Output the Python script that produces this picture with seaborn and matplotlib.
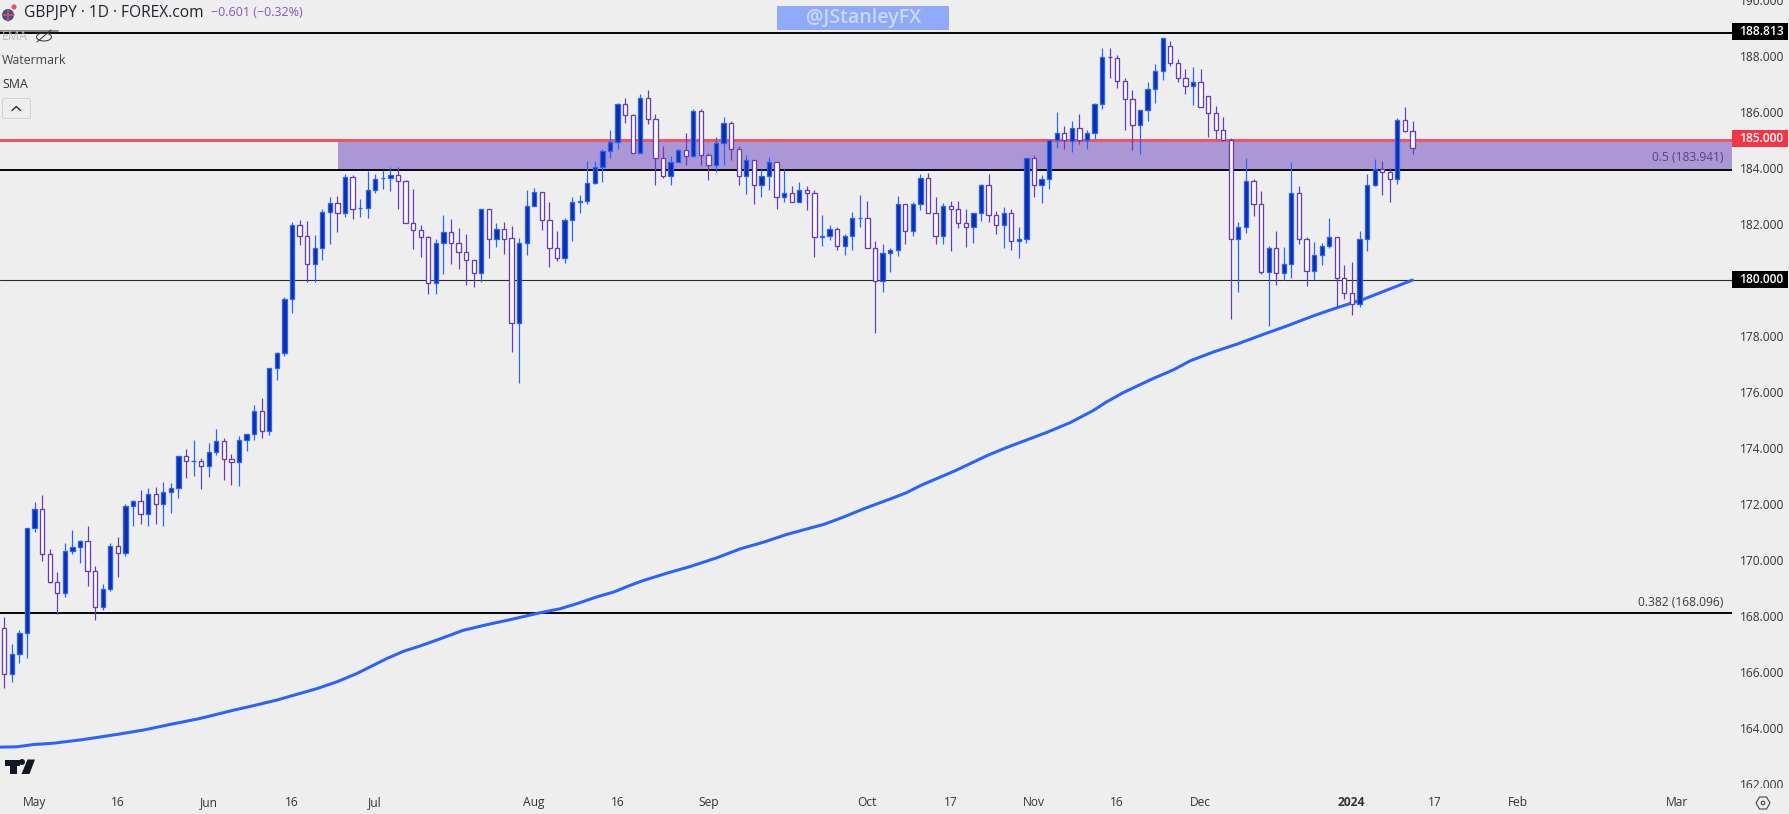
import pandas as pd
import matplotlib.pyplot as plt
import seaborn as sns
from matplotlib.patches import Rectangle, Polygon, Circle, Ellipse, FancyBboxPatch

# daily GBPJPY candles
opens = [167.58,165.94,166.66,167.41,171.15,171.83,170.22,169.21,168.83,170.33,
         170.47,170.68,169.61,168.33,168.97,170.51,170.26,171.93,172.11,171.65,
         172.36,172.00,172.43,172.57,173.71,173.54,173.54,173.36,173.86,174.25,
         173.61,173.50,174.28,174.50,175.32,174.61,176.85,177.39,179.31,181.95,
         181.59,180.56,181.16,182.44,182.76,182.41,183.69,182.59,182.59,183.23,
         183.63,183.66,183.76,183.55,182.02,181.77,181.52,179.88,181.34,181.70,
         181.34,180.99,180.70,180.24,182.52,181.47,181.81,181.49,178.45,181.34,
         182.63,183.13,182.16,181.13,180.77,182.16,182.77,182.84,183.48,184.05,
         184.62,184.94,186.30,185.91,184.55,186.51,185.76,184.34,183.73,184.20,
         184.66,184.44,186.05,184.48,184.12,184.91,185.62,184.69,183.73,184.27,
         183.38,183.70,184.20,182.98,183.09,182.77,183.23,183.09,181.52,181.59,
         181.81,181.22,181.59,182.20,182.20,181.13,179.95,180.95,181.06,182.70,
         181.74,182.73,183.66,182.38,181.58,182.66,182.52,182.02,181.91,182.38,
         183.38,182.31,181.95,182.41,181.38,181.45,184.37,183.41,183.59,185.01,
         185.26,184.98,185.44,184.99,185.25,186.30,187.97,187.93,187.11,186.47,
         185.55,186.08,186.83,187.47,188.36,187.76,187.22,186.94,187.08,186.58,
         185.97,185.37,185.01,181.48,181.91,183.52,182.70,180.27,181.16,180.24,
         180.56,183.12,181.45,180.31,180.88,181.20,181.52,180.06,179.52,179.13,
         181.48,183.41,183.97,183.87,183.62,185.73,185.33]
highs = [167.96,167.01,167.49,171.15,172.09,172.34,170.38,169.56,170.61,171.09,
         170.70,171.20,169.77,169.13,170.61,170.84,172.01,172.15,172.51,172.59,
         172.62,172.80,172.76,173.72,173.98,174.30,173.66,174.19,174.69,174.37,
         173.79,174.43,174.51,175.54,175.79,176.86,177.42,179.39,182.06,182.14,
         182.10,181.60,182.55,182.95,182.99,183.77,183.76,182.88,183.88,183.77,
         183.94,184.02,184.02,183.57,183.24,181.98,181.59,181.48,182.31,182.17,
         181.85,181.64,180.70,182.52,182.52,182.02,182.07,181.93,181.49,183.21,
         183.28,183.16,182.78,181.75,182.21,182.96,183.03,184.24,184.24,184.69,
         185.34,186.33,186.49,185.94,186.65,186.77,185.94,184.77,184.42,184.69,
         185.26,186.10,186.12,184.55,185.10,185.81,185.69,184.77,184.48,184.27,
         183.95,184.39,184.20,183.95,183.35,183.49,183.35,183.21,182.32,181.96,
         181.89,181.66,182.42,183.03,182.82,181.39,181.28,181.14,183.00,182.70,
         182.78,183.78,183.82,182.96,182.75,182.82,182.82,182.53,182.38,183.42,
         183.78,182.46,182.60,182.53,181.89,184.37,184.48,183.74,185.01,185.99,
         185.49,185.69,185.92,185.34,186.33,188.30,188.27,188.02,187.23,186.79,
         186.08,187.06,187.70,188.65,188.55,187.88,187.55,187.59,187.52,186.58,
         186.20,185.81,185.06,182.07,184.35,183.59,183.17,181.21,181.75,181.17,
         184.20,183.35,181.53,181.35,181.32,182.21,181.52,180.53,180.64,181.75,
         183.78,184.31,184.24,183.99,185.77,186.17,185.67]
lows = [165.43,165.65,166.32,166.50,170.99,169.96,169.18,168.08,168.68,170.20,
        169.89,169.09,167.86,168.20,168.89,169.41,170.14,171.20,171.28,171.20,
        171.30,171.23,171.69,172.23,172.94,173.01,172.55,172.98,173.76,172.87,
        172.69,172.66,173.90,174.30,174.37,174.47,176.43,177.27,178.83,181.24,
        179.94,179.94,180.73,181.28,181.71,182.24,182.17,182.24,182.21,183.10,
        183.24,183.17,182.53,182.02,181.10,180.82,179.51,179.51,180.22,180.57,
        180.39,179.82,179.75,179.93,180.80,181.18,180.93,177.44,176.33,180.89,
        182.63,181.78,180.47,180.68,180.61,181.39,182.39,182.71,183.42,183.49,
        184.35,184.69,185.60,184.55,184.55,185.56,183.39,183.64,183.39,184.20,
        184.10,184.39,184.10,183.57,183.85,184.10,184.28,183.39,183.07,182.71,
        182.96,183.21,182.53,182.78,182.77,182.77,182.50,180.82,181.21,181.43,
        181.07,180.89,181.07,181.89,181.13,178.11,179.57,180.29,180.86,181.28,
        181.57,182.50,182.38,181.28,181.28,181.04,181.86,181.18,181.32,182.10,
        182.07,181.64,181.14,181.07,180.79,181.32,182.96,182.75,183.24,184.71,
        184.67,184.56,184.85,184.67,185.03,186.11,187.21,186.85,185.34,184.63,
        184.49,185.67,186.31,187.13,187.63,187.06,186.63,186.24,186.19,185.10,
        185.02,185.01,178.61,179.57,181.67,182.28,180.21,178.36,179.82,179.99,
        180.07,181.28,179.79,179.99,180.53,181.13,178.99,179.32,178.75,179.04,
        181.03,183.35,183.03,182.78,183.42,185.29,184.49]
closes = [165.94,166.66,167.41,171.15,171.83,170.22,169.21,168.83,170.33,170.47,
          170.68,169.61,168.33,168.97,170.51,170.26,171.93,172.11,171.65,172.36,
          172.00,172.43,172.57,173.71,173.54,173.54,173.36,173.86,174.25,173.61,
          173.50,174.28,174.50,175.32,174.61,176.85,177.39,179.31,181.95,181.59,
          180.56,181.16,182.44,182.76,182.41,183.69,182.55,182.59,183.23,183.62,
          183.63,183.76,183.55,182.02,181.77,181.52,179.88,181.34,181.70,181.33,
          180.99,180.70,180.24,182.52,181.47,181.81,181.47,178.45,181.34,182.63,
          183.13,182.16,181.13,180.77,182.16,182.77,182.84,183.48,184.05,184.62,
          184.94,186.30,185.91,184.55,186.51,185.76,184.34,183.73,184.20,184.66,
          184.44,186.05,184.48,184.12,184.91,185.62,184.69,183.73,184.27,183.38,
          183.70,184.20,182.98,183.09,182.77,183.23,183.09,181.52,181.59,181.81,
          181.22,181.59,182.20,182.20,181.13,179.95,180.95,181.06,182.70,181.74,
          182.73,183.66,182.38,181.58,182.66,182.52,182.02,181.91,182.38,183.38,
          182.31,181.95,182.41,181.38,181.45,184.37,183.41,183.59,185.01,185.26,
          184.99,185.44,184.99,185.26,186.30,187.97,187.96,187.11,186.47,185.55,
          186.08,186.83,187.47,188.65,187.76,187.22,186.94,187.08,186.19,185.97,
          185.37,185.01,181.48,181.91,183.52,182.70,180.27,181.16,180.24,180.56,
          183.12,181.45,180.31,180.88,181.20,181.52,180.06,179.52,179.13,181.48,
          183.41,183.97,183.87,183.62,185.73,185.33,184.73]

# 200 day SMA, read at these candle positions
sma_pos = [-0.57,1.6,3.8,6.5,10.4,14.8,18.4,21.9,25.8,30.3,32.9,36,41.3,43.9,46.5,50.5,52.7,54.9,
           57.6,60.6,63.7,66.8,70.8,73.4,75.6,78.2,80.5,82.6,84.4,87.5,90.6,94.1,97.2,100.3,
           103.3,106,108.2,110.8,113.5,115.2,117,119.2,121,125.6,129.8,132.4,137.7,140.8,
           143.9,145.6,147.8,151.8,154.4,156.6,159.7,162.8,166.3,169.4,172.9,176,179.5,186]
sma_vals = [163.32,163.33,163.41,163.46,163.59,163.77,163.93,164.13,164.34,164.64,164.80,165.00,
            165.41,165.65,165.94,166.48,166.74,166.93,167.19,167.49,167.69,167.87,168.12,168.26,
            168.44,168.68,168.86,169.09,169.27,169.53,169.77,170.08,170.40,170.64,170.91,171.11,
            171.27,171.53,171.83,172.00,172.18,172.41,172.66,173.19,173.73,174.02,174.56,174.91,
            175.35,175.65,175.98,176.49,176.79,177.11,177.43,177.71,178.06,178.36,178.72,179.01,
            179.31,180.00]

price_ticks = [162,164,166,168,170,172,174,176,178,180,182,184,186,188,190]
date_pos = [4,15,27,38,49,70,81,93,114,125,136,147,158,178,189,200,221]
date_labels = ['May','16','Jun','16','Jul','Aug','16','Sep','Oct','17','Nov','16','Dec','2024','17','Feb','Mar']

level_high = 188.813
level_fib5 = 183.941
level_fib382 = 168.096
level_round = 180.0
level_red = 185.0

BG = '#eeeeee'
UP_EDGE = '#2962ff'
UP_FILL = '#0d2f9f'
DOWN_EDGE = '#673ab7'
DOWN_FILL = '#ffffff'
W, H = 1789, 814
PX = 0.72

sns.set_theme(style='white', rc={'figure.facecolor': BG, 'axes.facecolor': BG})
plt.rcParams['font.family'] = ['Open Sans', 'DejaVu Sans']

candles = pd.DataFrame({'open': opens, 'high': highs, 'low': lows, 'close': closes})
candles['pos'] = candles.index
up = candles[candles['close'] >= candles['open']]
down = candles[candles['close'] < candles['open']]

fig = plt.figure(figsize=(W / 100, H / 100), dpi=100)
ax = fig.add_axes([0, 26 / H, 1732 / W, 788 / H])

# zone and levels
ax.axhspan(level_fib5, level_red, xmin=338 / 1732, xmax=1, facecolor='#ab97d6', edgecolor='none', zorder=1)
ax.axhline(level_red, color='#ee5566', lw=3 * PX, zorder=1.5)
ax.axhline(level_high, color='#0a0a0a', lw=2 * PX, zorder=2)
ax.axhline(level_fib5, color='#0a0a0a', lw=2 * PX, zorder=2)
ax.axhline(level_fib382, color='#0a0a0a', lw=2 * PX, zorder=2)
ax.axhline(level_round, color='#2a2a2a', lw=1.1 * PX, zorder=2)

sns.lineplot(x=sma_pos, y=sma_vals, ax=ax, color=UP_EDGE, linewidth=3 * PX, estimator=None, sort=False, zorder=3)

# candles
for part, edge, fill in [(up, UP_EDGE, UP_FILL), (down, DOWN_EDGE, DOWN_FILL)]:
    ax.vlines(part['pos'], part['low'], part['high'], color=edge, lw=1.2 * PX, zorder=3.5)
    bottoms = part[['open', 'close']].min(axis=1)
    heights = (part['close'] - part['open']).abs()
    ax.bar(part['pos'], heights, bottom=bottoms, width=0.56, facecolor=fill, edgecolor=edge,
           linewidth=1.3 * PX, zorder=4)

ax.set_xlim(-0.572, 228.2)
ax.set_ylim(161.86, 189.942)
ax.set_xticks([])
ax.set_yticks(price_ticks)
ax.set_yticklabels([f'{p:.3f}' for p in price_ticks], color='#333333', fontsize=12 * PX)
ax.yaxis.tick_right()
ax.tick_params(axis='y', length=0, pad=8 * PX)
sns.despine(ax=ax, left=True, bottom=True, right=True, top=True)

# time axis strip, also cuts the lowest price label like the original
ax_time = fig.add_axes([0, 0, 1, 26 / H])
ax_time.set_facecolor(BG)
ax_time.set_xlim(-0.572, 235.76)
ax_time.set_yticks([])
ax_time.set_xticks(date_pos)
ax_time.set_xticklabels(date_labels, color='#333333', fontsize=12 * PX)
ax_time.tick_params(axis='x', length=0, pad=-13)
ax_time.get_xticklabels()[date_labels.index('2024')].set_fontweight('bold')
sns.despine(ax=ax_time, left=True, bottom=True, right=True, top=True)

# overlay in pixel coordinates for header, tags and icons
ov = fig.add_axes([0, 0, 1, 1])
ov.set_xlim(0, W)
ov.set_ylim(H, 0)
ov.axis('off')
ov.patch.set_alpha(0)

# dimmed part of the top line under the legend
ov.plot([0, 58], [31, 31], color='#888888', lw=2 * PX)

ov.text(24, 13, 'GBPJPY · 1D · FOREX.com', fontsize=15.5 * PX, color='#1e222d', va='center')
ov.text(211, 13, '\u22120.601 (\u22120.32%)', fontsize=12.5 * PX, color='#7e57c2', va='center')
ov.text(2, 37, 'EMA', fontsize=12.4 * PX, color='#b8b8b8', va='center')
ov.text(2, 60.5, 'Watermark', fontsize=12.4 * PX, color='#444444', va='center')
ov.text(2, 84.5, 'SMA', fontsize=12.4 * PX, color='#333333', va='center')

# flag
ov.add_patch(Circle((8, 15), 6, facecolor='#3b4f8f', edgecolor='none'))
ov.plot([2.5, 13.5], [15, 15], color='#e05060', lw=1.6 * PX)
ov.plot([8, 8], [9.5, 20.5], color='#e05060', lw=1.6 * PX)
ov.add_patch(Circle((14, 7), 2.6, facecolor='#e8505f', edgecolor='none'))

# eye icon
ov.add_patch(Ellipse((44, 37), 15, 8, facecolor='none', edgecolor='#333333', lw=1 * PX))
ov.plot([37, 51], [42, 30], color='#333333', lw=1 * PX)

# collapse button
ov.add_patch(FancyBboxPatch((3.5, 99.5), 26, 18, boxstyle='round,pad=1,rounding_size=2', facecolor=BG,
                            edgecolor='#d2d2d2', lw=1 * PX))
ov.plot([12, 16.3, 20.5], [110.5, 106.5, 110.5], color='#222222', lw=1.3 * PX)

# watermark box
ov.add_patch(Rectangle((777, 6), 172, 24, facecolor='#8eaaf8', edgecolor='none'))
ov.text(863.5, 18, '@JStanleyFX', fontsize=19.5 * PX, color='#cbd9fc', ha='center', va='center', fontweight='semibold')

# fib labels
ov.text(1723, 157.5, '0.5 (183.941)', fontsize=12 * PX, color='#54437f', ha='right', va='center')
ov.text(1723, 602.5, '0.382 (168.096)', fontsize=12 * PX, color='#3a3a3a', ha='right', va='center')

# price tags
for y0, colour, label in [(23, '#000000', f'{level_high:.3f}'), (130, '#f23645', f'{level_red:.3f}'),
                          (271, '#000000', f'{level_round:.3f}')]:
    ov.add_patch(Rectangle((1732, y0), 56, 17, facecolor=colour, edgecolor='none'))
    ov.text(1761, y0 + 8.7, label, fontsize=12 * PX, color='white', ha='center', va='center', fontweight='semibold')

# TV logo
ov.add_patch(Rectangle((5, 759.5), 14.5, 6.5, facecolor='#131722', edgecolor='none'))
ov.add_patch(Rectangle((10, 759.5), 6.8, 14.5, facecolor='#131722', edgecolor='none'))
ov.add_patch(Circle((22, 762), 3, facecolor='#131722', edgecolor='none'))
ov.add_patch(Polygon([(35, 759.5), (27.5, 759.5), (21.5, 774), (29.5, 774)], facecolor='#131722', edgecolor='none'))

# settings gear
ov.add_patch(Polygon([(1756, 803), (1759.5, 797), (1766.5, 797), (1770, 803), (1766.5, 809), (1759.5, 809)],
                     facecolor='none', edgecolor='#333333', lw=1 * PX))
ov.add_patch(Circle((1763, 803), 1.8, facecolor='none', edgecolor='#333333', lw=1 * PX))

plt.savefig('out.png', dpi=100, facecolor=BG)
